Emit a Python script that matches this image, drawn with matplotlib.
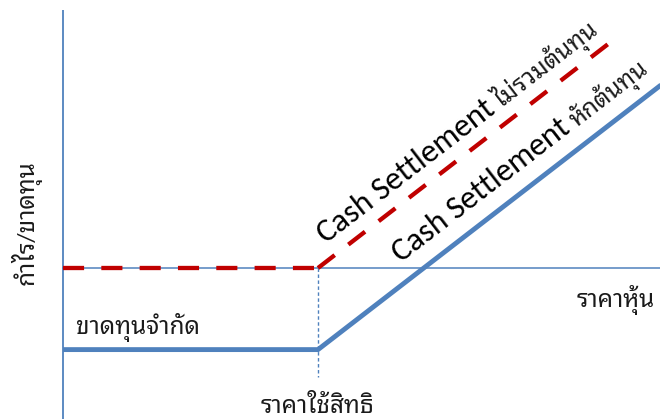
import matplotlib
matplotlib.use("Agg")
import logging
import numpy as np
import matplotlib.pyplot as plt

# ---- data (abstract payoff diagram units) ----
strike = 50
premium = 16
price_gross = [0, strike, 107]
payoff_gross = [0, 0, 44]              # Cash Settlement ไม่รวมต้นทุน
price_net = [0, strike, 120]
payoff_net = [-premium, -premium, 38]  # Cash Settlement หักต้นทุน

ylabel_text = "กำไร/ขาดทุน"
xlabel_text = "ราคาหุ้น"
loss_text = "ขาดทุนจำกัด"
strike_text = "ราคาใช้สิทธิ"
cash_text = "Cash Settlement"
gross_thai = "ไม่รวมต้นทุน"
net_thai = "หักต้นทุน"

logging.getLogger("matplotlib.font_manager").setLevel(logging.ERROR)
FONT = ["Carlito", "Lato", "Noto Sans Thai Looped", "DejaVu Sans"]
plt.rcParams["font.family"] = FONT

AX_BLUE = "#4F81BD"
RED = "#C00000"
TXT = "#1a1a1a"

W, H = 660, 419
fig = plt.figure(figsize=(W / 100, H / 100), dpi=100)
ax = fig.add_axes([0, 0, 1, 1])
ppu = 5.1
ax.set_xlim(-63 / ppu, (W - 63) / ppu)
ax.set_ylim(-(H - 268) / ppu, 268 / ppu)
ax.axis("off")

# axes lines
ax.plot([0, 0], [50.6, -(H - 268) / ppu], color=AX_BLUE, lw=1.3, solid_capstyle="butt")
ax.plot([0, (W - 63) / ppu + 2], [0, 0], color=AX_BLUE, lw=1.1)
ax.plot([strike, strike], [0, -21.3], color=AX_BLUE, lw=1.0, dashes=(2.5, 1.8))

# payoff lines
ax.plot(price_net, payoff_net, color=AX_BLUE, lw=3.5, solid_joinstyle="miter",
        solid_capstyle="butt")
# gross payoff: flat part and sloped part each start their own dash pattern
ax.plot(price_gross[:2], payoff_gross[:2], color=RED, lw=3.1, dashes=(4.9, 4.0),
        dash_capstyle="butt")
ax.plot(price_gross[1:], payoff_gross[1:], color=RED, lw=3.1, dashes=(4.9, 4.0),
        dash_capstyle="butt")

fig.canvas.draw()
renderer = fig.canvas.get_renderer()
p1 = ax.transData.transform((price_net[1], payoff_net[1]))
p2 = ax.transData.transform((price_net[2], payoff_net[2]))
ang = np.degrees(np.arctan2(p2[1] - p1[1], p2[0] - p1[0]))
d = np.array([np.cos(np.radians(ang)), np.sin(np.radians(ang))])


def px(x, y):
    return ax.transData.inverted().transform((x, H - y))


def label_pair(x0, y0, thai, fs_lat=23.3, fs_thai=17.5):
    x, y = px(x0, y0)
    ax.text(x, y, cash_text, rotation=ang, rotation_mode="anchor",
            ha="left", va="baseline", fontsize=fs_lat, color="black")
    tmp = fig.text(0, 0, cash_text, fontsize=fs_lat)
    w = tmp.get_window_extent(renderer).width
    tmp.remove()
    start = np.array([x0, H - y0]) + d * (w + 6)
    xs, ys = ax.transData.inverted().transform(start)
    ax.text(xs, ys, thai, rotation=ang, rotation_mode="anchor",
            ha="left", va="baseline", fontsize=fs_thai, color=TXT)


label_pair(326, 244, gross_thai)
label_pair(401, 263, net_thai)

# other labels
fig.text(26 / W, 1 - 223 / H, ylabel_text, rotation=90, ha="center", va="center",
         fontsize=17.5, color=TXT)
fig.text(616 / W, 1 - 300 / H, xlabel_text, ha="center", va="center",
         fontsize=17.5, color=TXT)
fig.text(138 / W, 1 - 327 / H, loss_text, ha="center", va="center",
         fontsize=17.5, color=TXT)
fig.text(317 / W, 1 - 405 / H, strike_text, ha="center", va="center",
         fontsize=17.5, color=TXT)

fig.savefig("out.png", dpi=100)
